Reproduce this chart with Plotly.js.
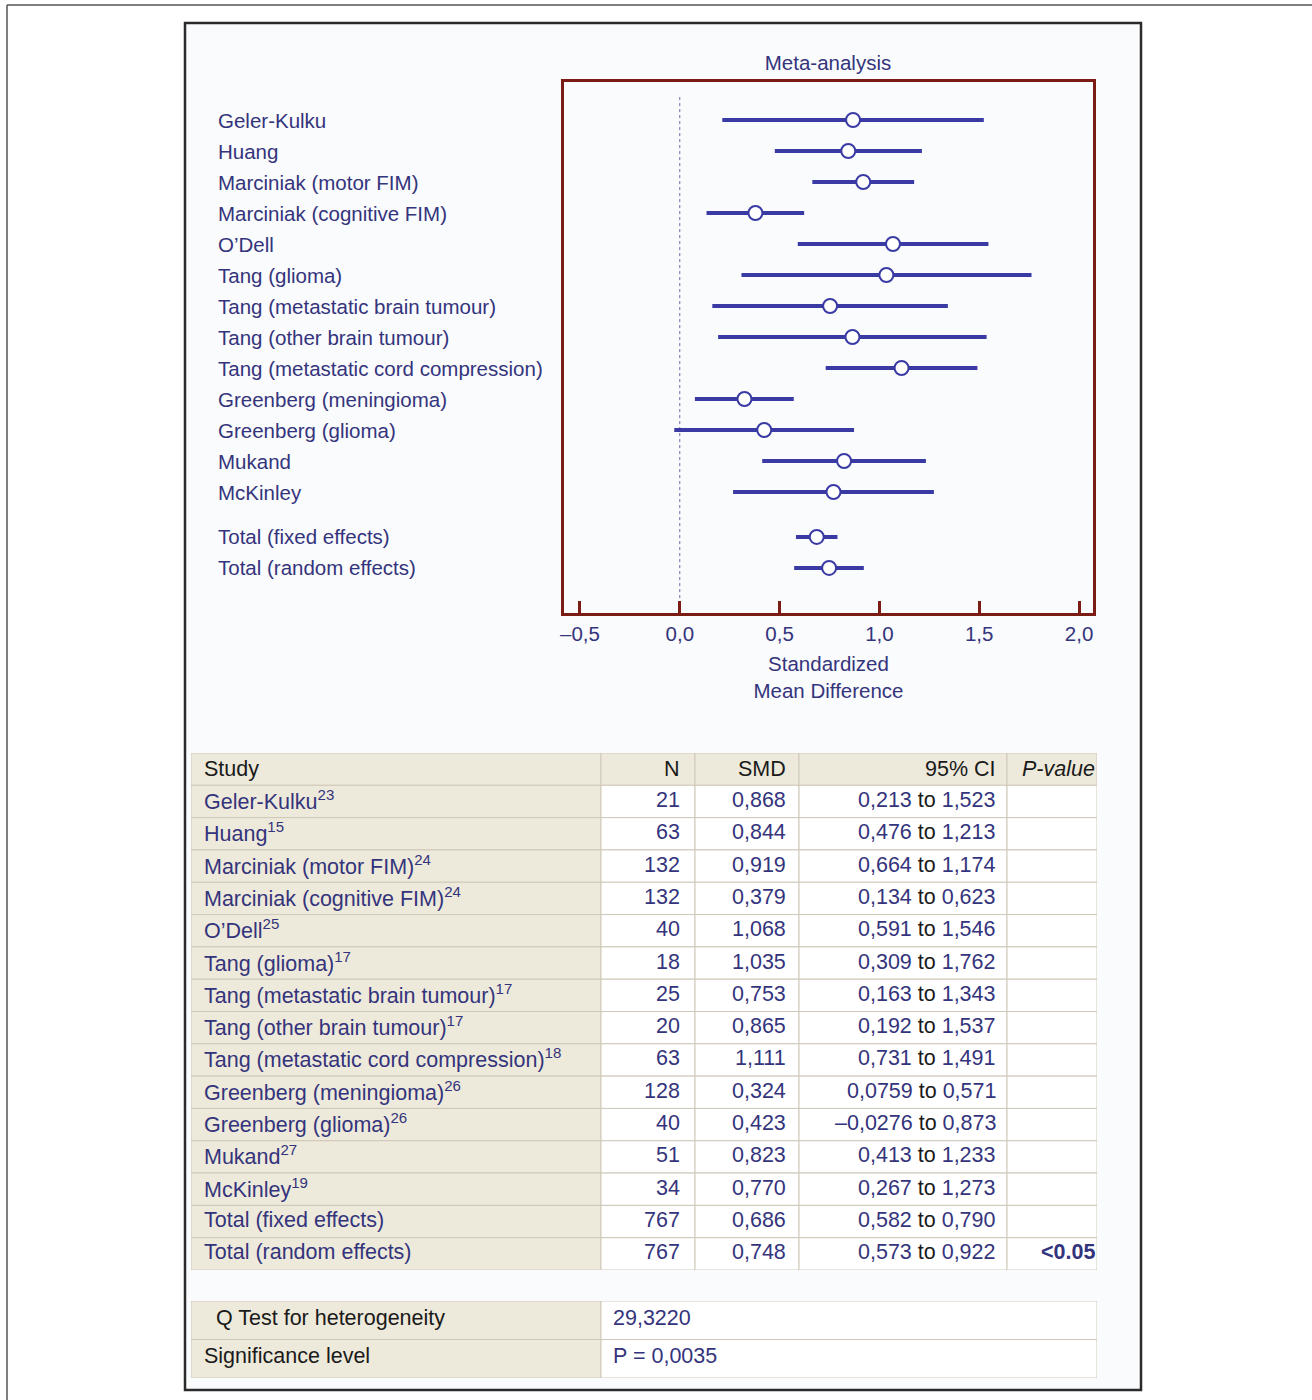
<!DOCTYPE html>
<html>
<head>
<meta charset="utf-8">
<script src="https://cdn.plot.ly/plotly-3.0.1.min.js"></script>
<style>html,body{margin:0;padding:0;background:#fff;}#chart{width:1312px;height:1400px;}</style>
</head>
<body>
<div id="chart"></div>
<script>
// ---- data ----
const studies = ['Geler-Kulku', 'Huang', 'Marciniak (motor FIM)', 'Marciniak (cognitive FIM)', 'O\u2019Dell',
  'Tang (glioma)', 'Tang (metastatic brain tumour)', 'Tang (other brain tumour)', 'Tang (metastatic cord compression)',
  'Greenberg (meningioma)', 'Greenberg (glioma)', 'Mukand', 'McKinley'];
const totals = ['Total (fixed effects)', 'Total (random effects)'];
const refs = ['23', '15', '24', '24', '25', '17', '17', '17', '18', '26', '26', '27', '19', '', ''];
const nVals = [21, 63, 132, 132, 40, 18, 25, 20, 63, 128, 40, 51, 34, 767, 767];
const smd = [0.868, 0.844, 0.919, 0.379, 1.068, 1.035, 0.753, 0.865, 1.111, 0.324, 0.423, 0.823, 0.770, 0.686, 0.748];
const ciLow = [0.213, 0.476, 0.664, 0.134, 0.591, 0.309, 0.163, 0.192, 0.731, 0.0759, -0.0276, 0.413, 0.267, 0.582, 0.573];
const ciHigh = [1.523, 1.213, 1.174, 0.623, 1.546, 1.762, 1.343, 1.537, 1.491, 0.571, 0.873, 1.233, 1.273, 0.790, 0.922];
const pValues = ['', '', '', '', '', '', '', '', '', '', '', '', '', '', '<0.05'];
const tickVals = [-0.5, 0, 0.5, 1, 1.5, 2];
const tickText = ['\u20130,5', '0,0', '0,5', '1,0', '1,5', '2,0'];
const tableHeader = ['Study', 'N', 'SMD', '95% CI', 'P-value'];
const qLabels = ['Q Test for heterogeneity', 'Significance level'];
const qValues = ['29,3220', 'P = 0,0035'];

// ---- helpers / styling ----
const W = 1312, H = 1400;
const px = x => x / W;
const py = y => 1 - y / H;
const NAVY_TXT = '#34347c';
const NAVY_LINE = '#3a3aa4';
const DARK = '#1a1a1a';
const RED = '#7a1c14';
const BEIGE = '#eeeadb';
const GRID = '#cfc8b8';
const FONT = 'Arial, "Liberation Sans", sans-serif';
const FS = 20.5;   // forest plot font size
const TS = 21.5;   // table font size
const fmt = v => (Math.abs(v) < 0.1 ? v.toFixed(4) : v.toFixed(3)).replace('.', ',').replace('-', '\u2013');

const allNames = studies.concat(totals);
const rows = allNames.map((_, i) => i < studies.length ? i : i + 0.45);

// ---- forest plot traces ----
const ciX = [], ciY = [];
allNames.forEach((_, i) => { ciX.push(ciLow[i], ciHigh[i], null); ciY.push(rows[i], rows[i], null); });

const traces = [
  { type: 'scatter', mode: 'lines', x: ciX, y: ciY, line: { color: NAVY_LINE, width: 4 }, hoverinfo: 'skip', showlegend: false },
  { type: 'scatter', mode: 'markers', x: smd, y: rows,
    marker: { symbol: 'circle', size: 14, color: '#ffffff', line: { color: NAVY_LINE, width: 2 } }, hoverinfo: 'skip', showlegend: false },
  // anchors for the table subplots
  { type: 'scatter', x: [], y: [], xaxis: 'x2', yaxis: 'y2', hoverinfo: 'skip', showlegend: false },
  { type: 'scatter', x: [], y: [], xaxis: 'x3', yaxis: 'y3', hoverinfo: 'skip', showlegend: false }
];

const shapes = [
  { type: 'line', xref: 'paper', yref: 'paper', x0: px(7), x1: 1.01, y0: py(5), y1: py(5), line: { color: '#555', width: 1.5 }, layer: 'below' },
  { type: 'line', xref: 'paper', yref: 'paper', x0: px(7), x1: px(7), y0: py(5), y1: -0.01, line: { color: '#555', width: 1.5 }, layer: 'below' },
  { type: 'rect', xref: 'paper', yref: 'paper', x0: px(185), x1: px(1141), y0: py(1390), y1: py(23),
    fillcolor: '#fafbfd', line: { color: '#2b2b2b', width: 2.5 }, layer: 'below' },
  { type: 'line', xref: 'x', yref: 'y', x0: 0, x1: 0, y0: -0.74, y1: 15.903,
    line: { color: '#6a6aa8', width: 1, dash: 'dot' }, layer: 'below' }
];

const annotations = allNames.map((s, i) => ({
  xref: 'paper', yref: 'y', x: px(216), y: rows[i], xanchor: 'left', yanchor: 'middle',
  text: s, showarrow: false, font: { family: FONT, size: FS, color: NAVY_TXT }
}));

// ---- main table (drawn on its own x2/y2 axes: columns along x, rows along y) ----
const colWidths = [410, 94, 104, 208, 90];
const colEdges = [0];
colWidths.forEach(w => colEdges.push(colEdges[colEdges.length - 1] + w));
const colAlign = ['left', 'right', 'right', 'right', 'right'];
const colPad = [11, 13, 11, 9, 0];

const bodyCols = [
  allNames.map((s, i) => s + (refs[i] ? '<sup>' + refs[i] + '</sup>' : '')),
  nVals.map(v => String(v)),
  smd.map(fmt),
  allNames.map((_, i) => fmt(ciLow[i]) + ' <span style="color:' + DARK + '">to</span> ' + fmt(ciHigh[i])),
  pValues.map(v => v ? '<b>' + v.replace('<', '&lt;') + '</b>' : '')
];
const headerText = tableHeader.map((h, c) => c === 4 ? '<i>' + h + '</i>' : h);

function cellAnn(c, r, text, color, xr, yr, edges, align, pad, ys) {
  const left = align[c] === 'left';
  return {
    xref: xr, yref: yr, x: left ? edges[c] + pad[c] : edges[c + 1] - pad[c], y: r + 0.5,
    xanchor: left ? 'left' : 'right', yanchor: 'middle', showarrow: false, text: text, yshift: ys || 0,
    font: { family: FONT, size: TS, color: color }
  };
}

const nRows = allNames.length + 1;
for (let r = 0; r < nRows; r++) {
  for (let c = 0; c < colWidths.length; c++) {
    const fill = (r === 0 || c === 0) ? BEIGE : '#ffffff';
    shapes.push({ type: 'rect', xref: 'x2', yref: 'y2', x0: colEdges[c], x1: colEdges[c + 1], y0: r, y1: r + 1,
      fillcolor: fill, line: { color: GRID, width: 1 }, layer: 'below' });
    if (r === 0) {
      annotations.push(cellAnn(c, r, headerText[c], DARK, 'x2', 'y2', colEdges, colAlign, colPad, 0));
    } else if (bodyCols[c][r - 1]) {
      annotations.push(cellAnn(c, r, bodyCols[c][r - 1], NAVY_TXT, 'x2', 'y2', colEdges, colAlign, colPad, 1.5));
    }
  }
}

// ---- Q-test table (x3/y3) ----
const qEdges = [0, 410, 906];
const qAlign = ['left', 'left'];
const qPad = [11, 10];
qLabels.forEach((lab, r) => {
  shapes.push({ type: 'rect', xref: 'x3', yref: 'y3', x0: qEdges[0], x1: qEdges[1], y0: r, y1: r + 1,
    fillcolor: BEIGE, line: { color: GRID, width: 1 }, layer: 'below' });
  shapes.push({ type: 'rect', xref: 'x3', yref: 'y3', x0: qEdges[1], x1: qEdges[2], y0: r, y1: r + 1,
    fillcolor: '#ffffff', line: { color: GRID, width: 1 }, layer: 'below' });
  annotations.push(cellAnn(0, r, (r === 0 ? '\u00a0\u00a0' : '') + lab, DARK, 'x3', 'y3', qEdges, qAlign, qPad, 2.5));
  annotations.push(cellAnn(1, r, qValues[r], NAVY_TXT, 'x3', 'y3', qEdges, qAlign, qPad, 2.5));
});

const hidden = { visible: false, showgrid: false, zeroline: false, fixedrange: true };

const layout = {
  width: W, height: H,
  margin: { l: 0, r: 0, t: 0, b: 0 },
  paper_bgcolor: '#ffffff',
  plot_bgcolor: '#fdfdff',
  font: { family: FONT, color: NAVY_TXT },
  showlegend: false,
  hovermode: false,
  title: { text: 'Meta-analysis', x: px(828), y: py(63), xanchor: 'center', yanchor: 'middle',
    font: { family: FONT, size: FS, color: NAVY_TXT } },
  xaxis: {
    domain: [px(564), px(1093)], range: [-0.58, 2.07],
    tickvals: tickVals, ticktext: tickText,
    ticks: 'inside', ticklen: 12, tickwidth: 3, tickcolor: RED,
    showline: true, linecolor: RED, linewidth: 3, mirror: true,
    showgrid: false, zeroline: false, fixedrange: true,
    tickfont: { family: FONT, size: FS, color: NAVY_TXT },
    title: { text: 'Standardized<br>Mean Difference', font: { family: FONT, size: FS, color: NAVY_TXT }, standoff: 14 }
  },
  yaxis: {
    domain: [py(613), py(82)], range: [15.903, -1.226],
    showticklabels: false, ticks: '', showline: true, linecolor: RED, linewidth: 3, mirror: true,
    showgrid: false, zeroline: false, fixedrange: true
  },
  xaxis2: Object.assign({ domain: [px(191), px(1097)], range: [0, colEdges[colEdges.length - 1]], anchor: 'y2' }, hidden),
  yaxis2: Object.assign({ domain: [py(1270), py(753)], range: [nRows, 0], anchor: 'x2' }, hidden),
  xaxis3: Object.assign({ domain: [px(191), px(1097)], range: [0, qEdges[2]], anchor: 'y3' }, hidden),
  yaxis3: Object.assign({ domain: [py(1378), py(1301)], range: [2, 0], anchor: 'x3' }, hidden),
  shapes: shapes,
  annotations: annotations
};

Plotly.newPlot('chart', traces, layout, { staticPlot: true, displayModeBar: false });
</script>
</body>
</html>
